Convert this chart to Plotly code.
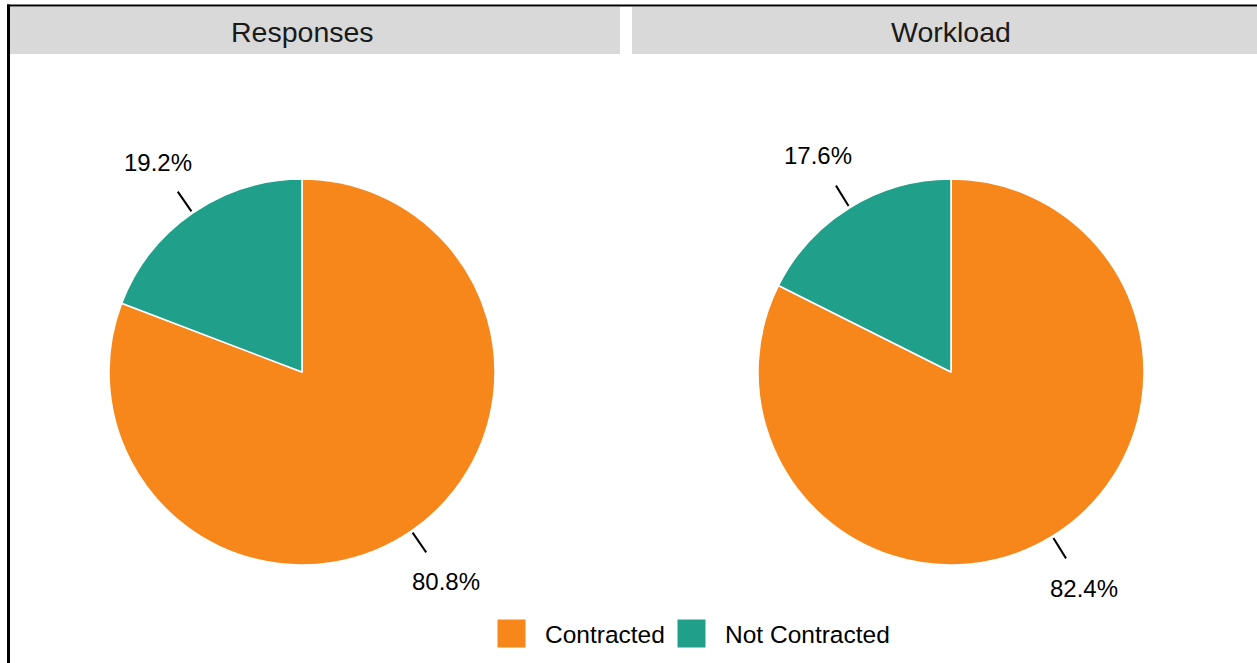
import math
import plotly.graph_objects as go

# ---- data ----
categories = ["Contracted", "Not Contracted"]
panels = ["Responses", "Workload"]
responses = [80.8, 19.2]
workload = [82.4, 17.6]
label_text_responses = ["80.8%", "19.2%"]
label_text_workload = ["82.4%", "17.6%"]

# ---- style / layout ----
W, H = 1257, 663
colors = ["#F7861B", "#20A08A"]
FONT = "Liberation Sans, Arial, sans-serif"
R = 193
centers = [(302, 372), (951, 372)]
strip_spans = [(10, 620), (632, 1257)]
STRIP_Y = (7, 54)


def px(x):
    return x / W


def py(y):
    return 1 - y / H


fig = go.Figure()
shapes = []
annotations = []

series = [responses, workload]
texts = [label_text_responses, label_text_workload]

for i, (vals, (cx, cy)) in enumerate(zip(series, centers)):
    fig.add_trace(go.Pie(
        labels=categories,
        values=vals,
        sort=False,
        direction="clockwise",
        rotation=0,
        marker=dict(colors=colors, line=dict(color="white", width=1.5)),
        textinfo="none",
        hoverinfo="label+percent",
        showlegend=False,
        domain=dict(x=[px(cx - R), px(cx + R)], y=[py(cy + R), py(cy - R)]),
    ))
    total = sum(vals)
    cum = 0.0
    for v, t in zip(vals, texts[i]):
        mid = (cum + v / 2) / total
        cum += v
        th = 2 * math.pi * mid
        sx, sy = math.sin(th), -math.cos(th)
        r1, r2, r3 = R + 2, R + 26, R + 61
        shapes.append(dict(type="line", xref="paper", yref="paper",
                           x0=px(cx + r1 * sx), y0=py(cy + r1 * sy),
                           x1=px(cx + r2 * sx), y1=py(cy + r2 * sy),
                           line=dict(color="black", width=2)))
        annotations.append(dict(xref="paper", yref="paper",
                                x=px(cx + r3 * sx), y=py(cy + r3 * sy),
                                text=t, showarrow=False,
                                xanchor="center", yanchor="middle",
                                font=dict(family=FONT, size=24, color="black")))

# strips
for (x0, x1), name, (cx, _) in zip(strip_spans, panels, centers):
    shapes.append(dict(type="rect", xref="paper", yref="paper",
                       x0=px(x0), x1=px(x1), y0=py(STRIP_Y[1]), y1=py(STRIP_Y[0]),
                       fillcolor="#D9D9D9", line=dict(width=0), layer="below"))
    annotations.append(dict(xref="paper", yref="paper",
                            x=px(cx), y=py((STRIP_Y[0] + STRIP_Y[1]) / 2 + 1),
                            text=name, showarrow=False,
                            xanchor="center", yanchor="middle",
                            font=dict(family=FONT, size=28.5, color="#1A1A1A")))

# manual legend
legend_keys = [(497, 543), (677, 723)]
for (kx, tx), cat, col in zip(legend_keys, categories, colors):
    shapes.append(dict(type="rect", xref="paper", yref="paper",
                       x0=px(kx), x1=px(kx + 29), y0=py(648), y1=py(619),
                       fillcolor=col, line=dict(color="white", width=1)))
    annotations.append(dict(xref="paper", yref="paper",
                            x=px(tx), y=py(634), text=cat, showarrow=False,
                            xanchor="left", yanchor="middle",
                            font=dict(family=FONT, size=24.5, color="black")))

# outer border (left and top)
shapes.append(dict(type="line", xref="paper", yref="paper",
                   x0=px(8.5), x1=px(8.5), y0=0, y1=py(4.5),
                   line=dict(color="black", width=3)))
shapes.append(dict(type="line", xref="paper", yref="paper",
                   x0=px(7), x1=1, y0=py(5.5), y1=py(5.5),
                   line=dict(color="black", width=2)))

fig.update_layout(
    width=W, height=H,
    margin=dict(l=0, r=0, t=0, b=0),
    paper_bgcolor="white",
    plot_bgcolor="white",
    shapes=shapes,
    annotations=annotations,
    font=dict(family=FONT),
)

fig.write_html("out.html")
